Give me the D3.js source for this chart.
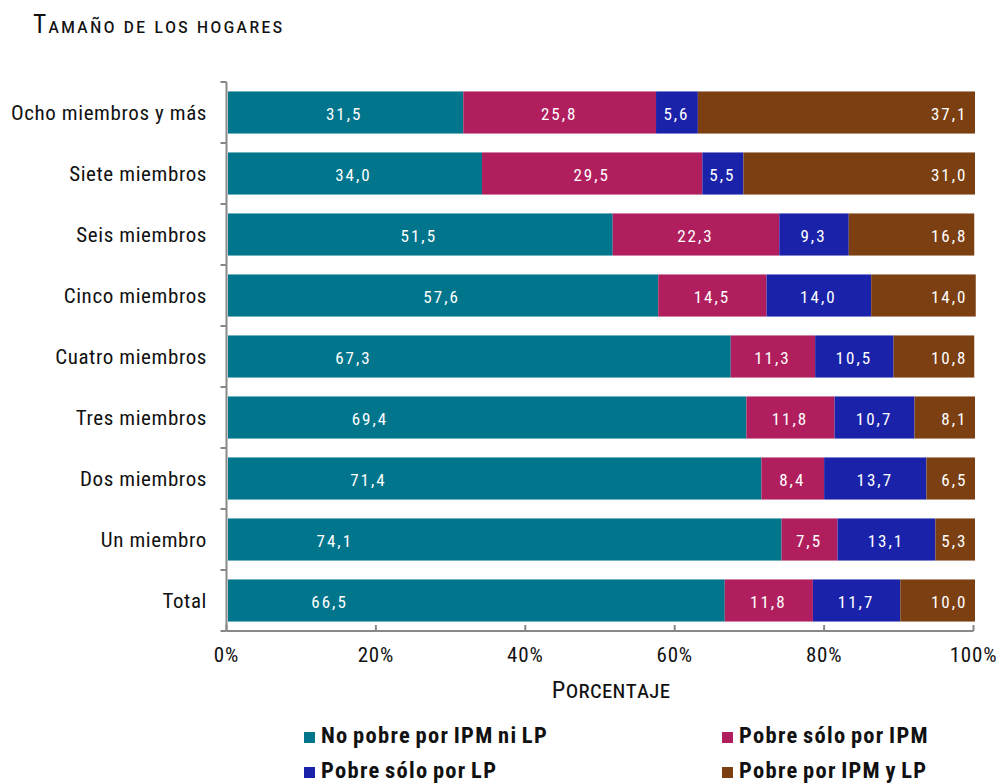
<!DOCTYPE html>
<html><head><meta charset="utf-8">
<script src="https://cdn.jsdelivr.net/npm/d3@7"></script>
<style>
body{margin:0;background:#fff;}
text{font-family:"Roboto Condensed","Roboto",sans-serif;font-stretch:condensed;}
</style></head>
<body><svg id="c" width="998" height="784"></svg>
<script>
const categories = ["Ocho miembros y más","Siete miembros","Seis miembros","Cinco miembros","Cuatro miembros","Tres miembros","Dos miembros","Un miembro","Total"];
const seriesNames = ["No pobre por IPM ni LP","Pobre sólo por IPM","Pobre sólo por LP","Pobre por IPM y LP"];
const noPobre = [31.5,34.0,51.5,57.6,67.3,69.4,71.4,74.1,66.5];
const soloIPM = [25.8,29.5,22.3,14.5,11.3,11.8,8.4,7.5,11.8];
const soloLP = [5.6,5.5,9.3,14.0,10.5,10.7,13.7,13.1,11.7];
const ipmYlp = [37.1,31.0,16.8,14.0,10.8,8.1,6.5,5.3,10.0];
const xTicks = [0,20,40,60,80,100];
// where the first-series labels sit (percent), as in the original
const firstLabelAt = [15.75,17.0,25.75,28.8,17.0,19.2,19.0,14.5,13.8];

const colors = ["#00758C","#B01E5E","#1A22AA","#7B3F12"];
const series = [noPobre,soloIPM,soloLP,ipmYlp];
const svg = d3.select("#c");
const x = d3.scaleLinear().domain([0,100]).range([226.5,973.5]);
const y = d3.scaleBand().domain(categories).range([82,631]).paddingInner(0.31).paddingOuter(0.155);
const fmt = v => v.toFixed(1).replace(".",",");

// title
const tt = svg.append("text").attr("x",33).attr("y",33).attr("fill","#111").attr("letter-spacing",2);
tt.append("tspan").attr("font-size",25.5).text("T");
tt.append("tspan").attr("font-size",21.5).style("font-variant","small-caps").text("amaño de los hogares");

// bars
categories.forEach((c,i)=>{
  let acc=0;
  series.forEach((s,k)=>{
    const v=s[i];
    svg.append("rect").attr("x",x(acc)+1.5).attr("y",y(c)).attr("width",x(acc+v)-x(acc)).attr("height",y.bandwidth()).attr("fill",colors[k]);
    let lx, anchor="middle";
    if(k===0){ lx = x(firstLabelAt[i]); }
    else if(k===3){ lx = x(100)-6; anchor="end"; }
    else { lx = x(acc+v/2)+1; }
    svg.append("text").attr("x",lx).attr("y",y(c)+y.bandwidth()/2+7).attr("text-anchor",anchor).attr("fill","#fff").attr("font-size",17).attr("letter-spacing",2).text(fmt(v));
    acc+=v;
  });
});

// y axis
const ya = svg.append("g").attr("transform","translate(226.5,0)");
ya.append("line").attr("y1",82).attr("y2",631).attr("stroke","#888").attr("stroke-width",2);
d3.range(10).forEach(j=>{
  const yy=82+j*(631-82)/9;
  ya.append("line").attr("x1",-6).attr("x2",0).attr("y1",yy).attr("y2",yy).attr("stroke","#888").attr("stroke-width",2);
});
categories.forEach(c=>{
  svg.append("text").attr("x",207).attr("y",y(c)+y.bandwidth()/2+7.5).attr("text-anchor","end").attr("font-size",21).attr("letter-spacing",0.6).attr("fill","#111").text(c);
});

// x axis
const xa = svg.append("g").attr("transform","translate(0,631)");
xa.append("line").attr("x1",226.5).attr("x2",973.5).attr("stroke","#888").attr("stroke-width",2);
xTicks.forEach(t=>{
  xa.append("line").attr("x1",x(t)).attr("x2",x(t)).attr("y1",0).attr("y2",-6).attr("stroke","#888").attr("stroke-width",2);
  xa.append("text").attr("x",x(t)).attr("y",31).attr("text-anchor","middle").attr("font-size",21).attr("letter-spacing",0.8).attr("fill","#111").text(t+"%");
});
const xt = svg.append("text").attr("x",611).attr("y",698).attr("text-anchor","middle").attr("fill","#111").attr("letter-spacing",0.3);
xt.append("tspan").attr("font-size",24.5).text("P");
xt.append("tspan").attr("font-size",24).style("font-variant","small-caps").text("orcentaje");

// legend
const lpos=[[304,743],[722,743],[304,778],[722,778]];
seriesNames.forEach((n,k)=>{
  const [lx,ly]=lpos[k];
  svg.append("rect").attr("x",lx).attr("y",ly-11).attr("width",11).attr("height",11).attr("fill",colors[k]);
  svg.append("text").attr("x",lx+17).attr("y",ly).attr("font-size",22.5).attr("font-weight","bold").attr("letter-spacing",1.3).attr("word-spacing",-2).attr("fill","#111").text(n);
});
</script></body></html>
